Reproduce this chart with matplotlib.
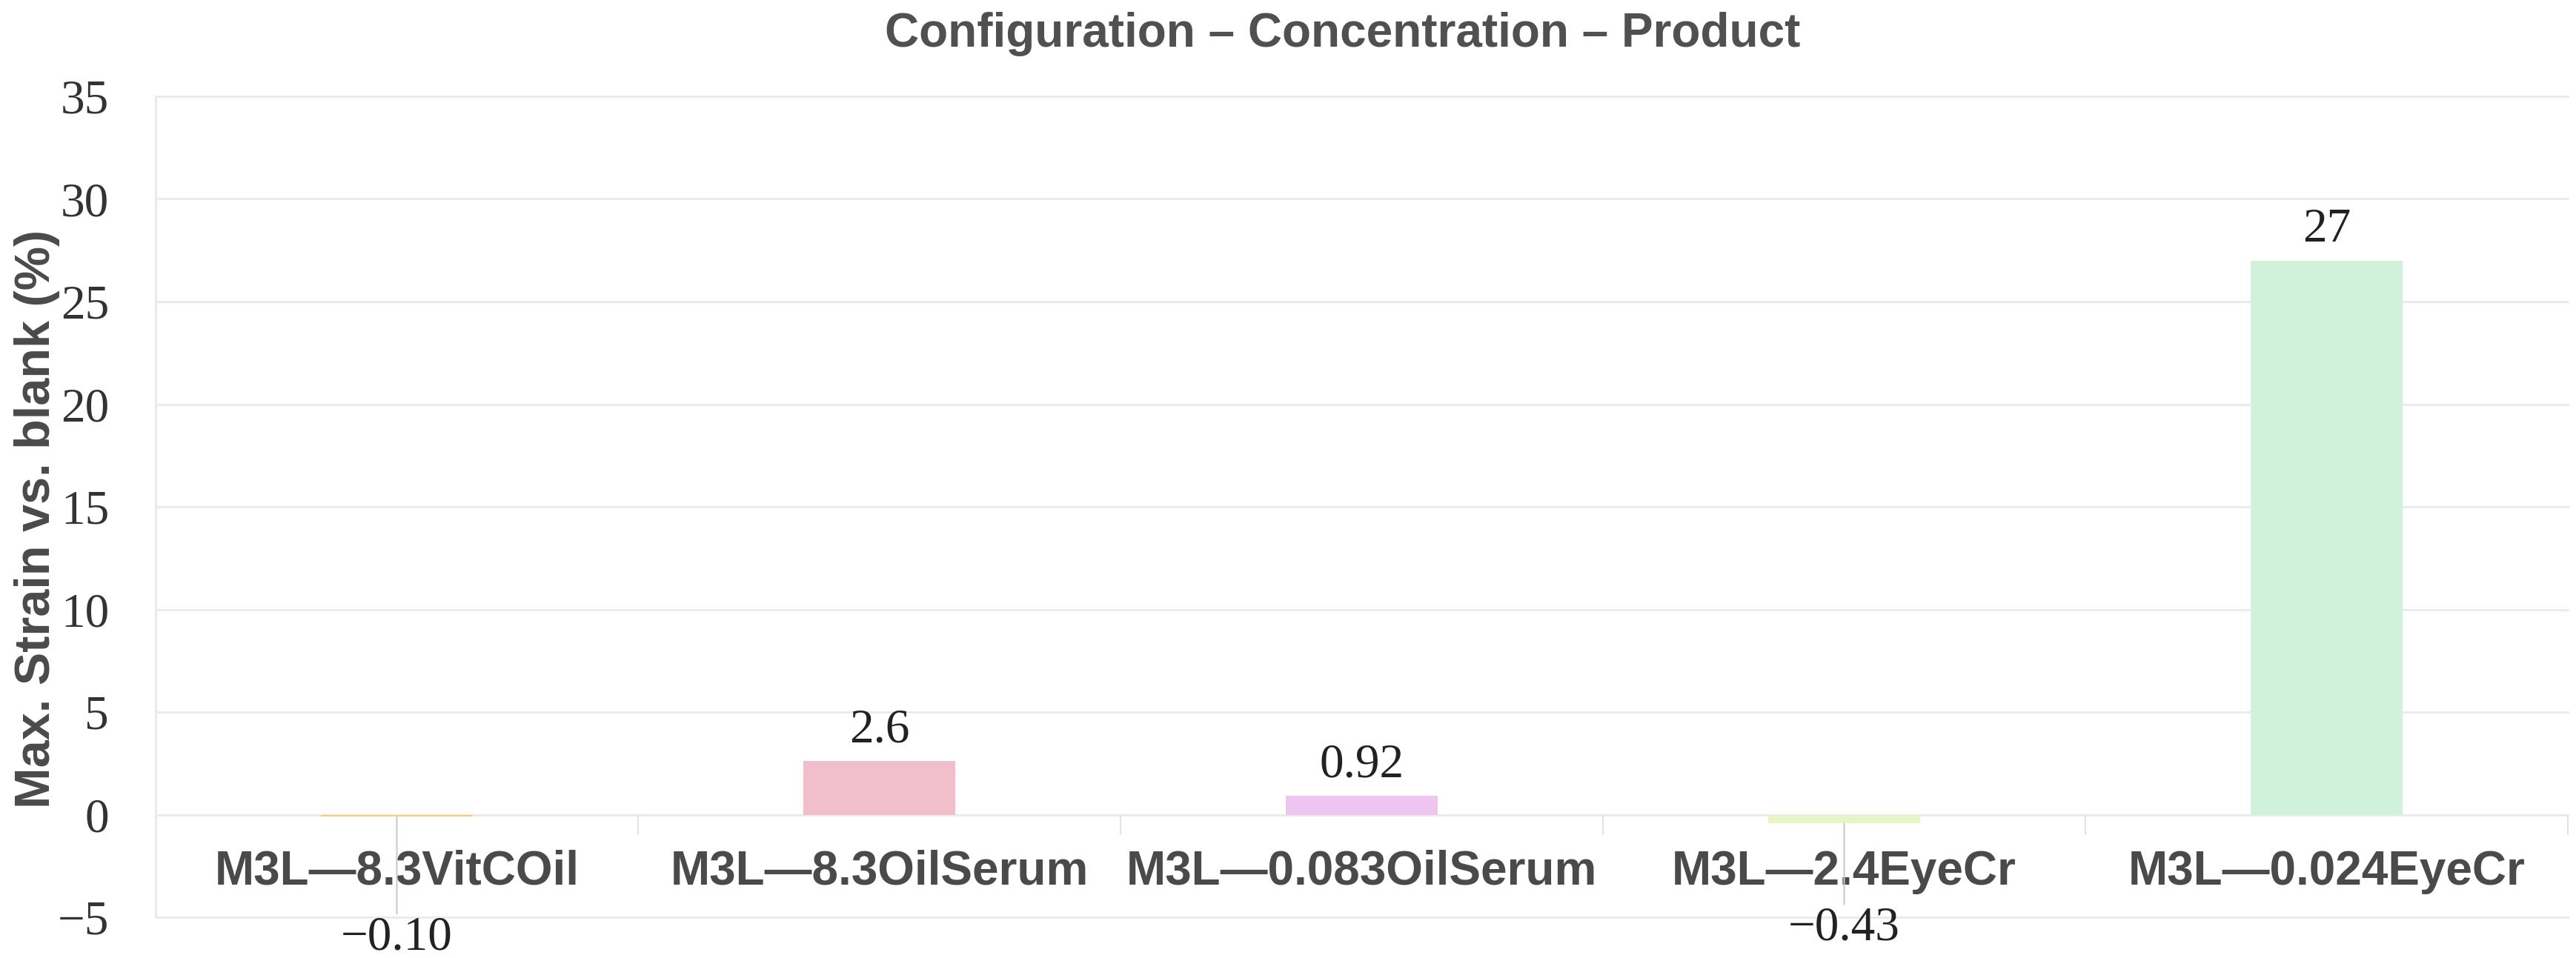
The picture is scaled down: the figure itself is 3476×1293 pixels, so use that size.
import matplotlib
matplotlib.use("Agg")
import matplotlib.pyplot as plt
import numpy as np

# ---- data ----
categories = ["M3L\u20148.3VitCOil", "M3L\u20148.3OilSerum", "M3L\u20140.083OilSerum",
              "M3L\u20142.4EyeCr", "M3L\u20140.024EyeCr"]
values = [-0.10, 2.6, 0.92, -0.43, 27]
value_labels = ["\u22120.10", "2.6", "0.92", "\u22120.43", "27"]
bar_colors = ["#F6CD74", "#F0BFCB", "#EEC4F1", "#E8F3C9", "#D0F2DA"]
yticks = [-5, 0, 5, 10, 15, 20, 25, 30, 35]

title = "Configuration \u2013 Concentration \u2013 Product"
ylabel = "Max. Strain vs. blank (%)"

# gap (pixels) between bar end and its value label
label_gap_px = [134, 26, 26, 112, 26]

DPI = 100
PX = 72.0 / DPI  # points per pixel

fig = plt.figure(figsize=(34.76, 12.93), dpi=DPI)
ax = fig.add_axes([210 / 3476, 1 - 1238 / 1293, (3465 - 210) / 3476, (1238 - 130) / 1293])

x = np.arange(len(categories))
ax.bar(x, values, width=0.315, color=bar_colors, zorder=2)

ax.set_xlim(-0.5, len(categories) - 0.5)
ax.set_ylim(yticks[0], yticks[-1])
ax.set_yticks(yticks)
ax.set_yticklabels([("\u2212" if t < 0 else "") + str(abs(t)) for t in yticks],
                   family="Liberation Serif", fontsize=47, color="#333333")
ax.tick_params(axis="y", length=0, pad=63 * PX)

ax.set_xticks(x)
ax.set_xticklabels(categories, family="Liberation Sans", fontweight="bold",
                   fontsize=46, color="#4a4a4a")
ax.tick_params(axis="x", length=0, pad=-91 * PX)

grid_c = "#ebebeb"
ax.grid(axis="y", color=grid_c, linewidth=3 * PX, zorder=0)
for gl in ax.get_ygridlines():
    gl.set_clip_on(False)
ax.set_axisbelow(True)
for s in ["top", "right", "bottom"]:
    ax.spines[s].set_visible(False)
ax.spines["left"].set_color(grid_c)
ax.spines["left"].set_linewidth(3 * PX)

# boundary ticks below the zero line
bounds = np.arange(len(categories) + 1) - 0.5
px_per_unit = (1238 - 130) / (yticks[-1] - yticks[0])
ax.vlines(bounds[1:], -27 / px_per_unit, 0, color="#e3e3e3", linewidth=2 * PX,
          zorder=1, clip_on=False)

# value labels
for xi, v, lab, gap in zip(x, values, value_labels, label_gap_px):
    if v >= 0:
        ax.annotate(lab, (xi, v), xytext=(0, gap * PX), textcoords="offset points",
                    ha="center", va="baseline", family="Liberation Serif",
                    fontsize=47, color="#222222", annotation_clip=False)
    else:
        ax.annotate(lab, (xi, v), xytext=(0, -gap * PX), textcoords="offset points",
                    ha="center", va="top", family="Liberation Serif",
                    fontsize=47, color="#222222", annotation_clip=False,
                    arrowprops=dict(arrowstyle="-", color="#c8c8c8",
                                    linewidth=2 * PX, shrinkA=0, shrinkB=0))

ax.set_ylabel(ylabel, family="Liberation Sans", fontweight="bold", fontsize=48,
              color="#4a4a4a")
ax.yaxis.label.set_va("center")
ax.yaxis.set_label_coords((50 - 210) / (3465 - 210), 0.485)

fig.text(1812 / 3476, 1 - 46 / 1293, title, ha="center", va="center",
         family="Liberation Sans", fontweight="bold", fontsize=46, color="#505050")

fig.savefig("out.png", dpi=DPI, facecolor="white")
